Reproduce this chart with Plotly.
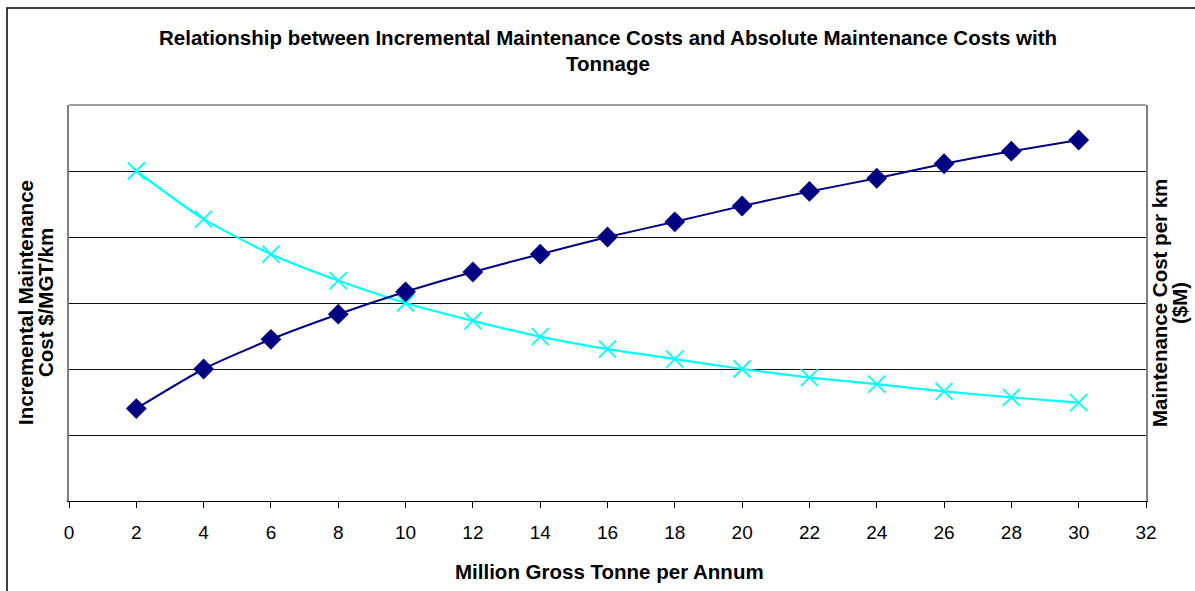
import plotly.graph_objects as go

# Data (y units = gridline intervals, no scale shown)
mgt = [2, 4, 6, 8, 10, 12, 14, 16, 18, 20, 22, 24, 26, 28, 30]
absolute_cost = [1.40, 2.00, 2.45, 2.83, 3.17, 3.47, 3.74, 4.00, 4.23, 4.47, 4.69, 4.89, 5.11, 5.30, 5.47]
incremental_cost = [5.00, 4.27, 3.74, 3.34, 3.00, 2.73, 2.49, 2.30, 2.15, 2.00, 1.87, 1.77, 1.66, 1.57, 1.49]
x_ticks = list(range(0, 33, 2))

title_lines = ["Relationship between Incremental Maintenance Costs and Absolute Maintenance Costs with",
               "Tonnage"]
x_title = "Million Gross Tonne per Annum"
y_left_lines = ["Incremental Maintenance", "Cost $/MGT/km"]
y_right_lines = ["Maintenance Cost per km", "($M)"]

FONT = "Liberation Sans, Arial, sans-serif"
W, H = 1195, 591
L, R, T, B = 69, 49, 105, 90
PW, PH = W - L - R, H - T - B


def px_x(p):
    return (p - L) / PW


def px_y(p):
    return (H - B - p) / PH


fig = go.Figure()

fig.add_trace(go.Scatter(
    x=mgt, y=absolute_cost, yaxis="y2", mode="lines+markers",
    name="Maintenance Cost per km",
    line=dict(color="#000080", width=2, shape="spline", smoothing=0.6),
    marker=dict(symbol="diamond", size=16, color="#000080"),
))
fig.add_trace(go.Scatter(
    x=mgt, y=incremental_cost, yaxis="y", mode="lines+markers",
    name="Incremental Maintenance Cost",
    line=dict(color="#00FFFF", width=2.2, shape="spline", smoothing=0.6),
    marker=dict(symbol="x-thin-open", size=17, color="#00FFFF",
                line=dict(color="#00FFFF", width=1.8)),
))

fig.update_layout(
    width=W, height=H,
    margin=dict(l=L, r=R, t=T, b=B, pad=0),
    paper_bgcolor="white", plot_bgcolor="white",
    showlegend=False,
    font=dict(family=FONT, color="black", size=19),
    xaxis=dict(
        range=[0, 32], tickvals=x_ticks, ticktext=[str(v) for v in x_ticks],
        ticks="outside", ticklen=6, tickcolor="black", tickwidth=1,
        ticklabelstandoff=8,
        showline=True, linecolor="black", linewidth=1,
        showgrid=False, zeroline=False,
        tickfont=dict(family=FONT, size=19, color="black"),
    ),
    yaxis=dict(
        range=[0, 6], dtick=1, showticklabels=False, ticks="",
        showgrid=True, gridcolor="#111111", gridwidth=1,
        showline=True, linecolor="#808080", linewidth=1.5,
        zeroline=False,
    ),
    yaxis2=dict(
        range=[0, 6], dtick=1, showticklabels=False, ticks="",
        overlaying="y", side="right",
        showgrid=False, showline=True, linecolor="#808080", linewidth=1.5,
        zeroline=False,
    ),
)

# plot-area top border (gray) and outer chart frame
fig.add_shape(type="line", xref="paper", yref="paper", x0=0, x1=1, y0=1, y1=1,
              line=dict(color="#808080", width=1.5))
fig.add_shape(type="rect", xref="paper", yref="paper",
              x0=px_x(7), x1=px_x(1220), y0=px_y(620), y1=px_y(8),
              line=dict(color="black", width=1.5), fillcolor="rgba(0,0,0,0)")


def label(text, x, y, angle=0):
    fig.add_annotation(text="<b>" + text + "</b>", xref="paper", yref="paper",
                       x=px_x(x), y=px_y(y), textangle=angle,
                       xanchor="center", yanchor="middle", showarrow=False,
                       font=dict(family=FONT, size=20.5, color="black"))


label(title_lines[0], 608, 37)
label(title_lines[1], 608, 63)
label(x_title, 609, 571)
label(y_left_lines[0], 25, 303, -90)
label(y_left_lines[1], 45, 303, -90)
label(y_right_lines[0], 1159, 303, -90)
label(y_right_lines[1], 1179, 303, -90)

fig.write_html("out.html", config={"displayModeBar": False},
               post_script="document.body.style.margin='0';")
